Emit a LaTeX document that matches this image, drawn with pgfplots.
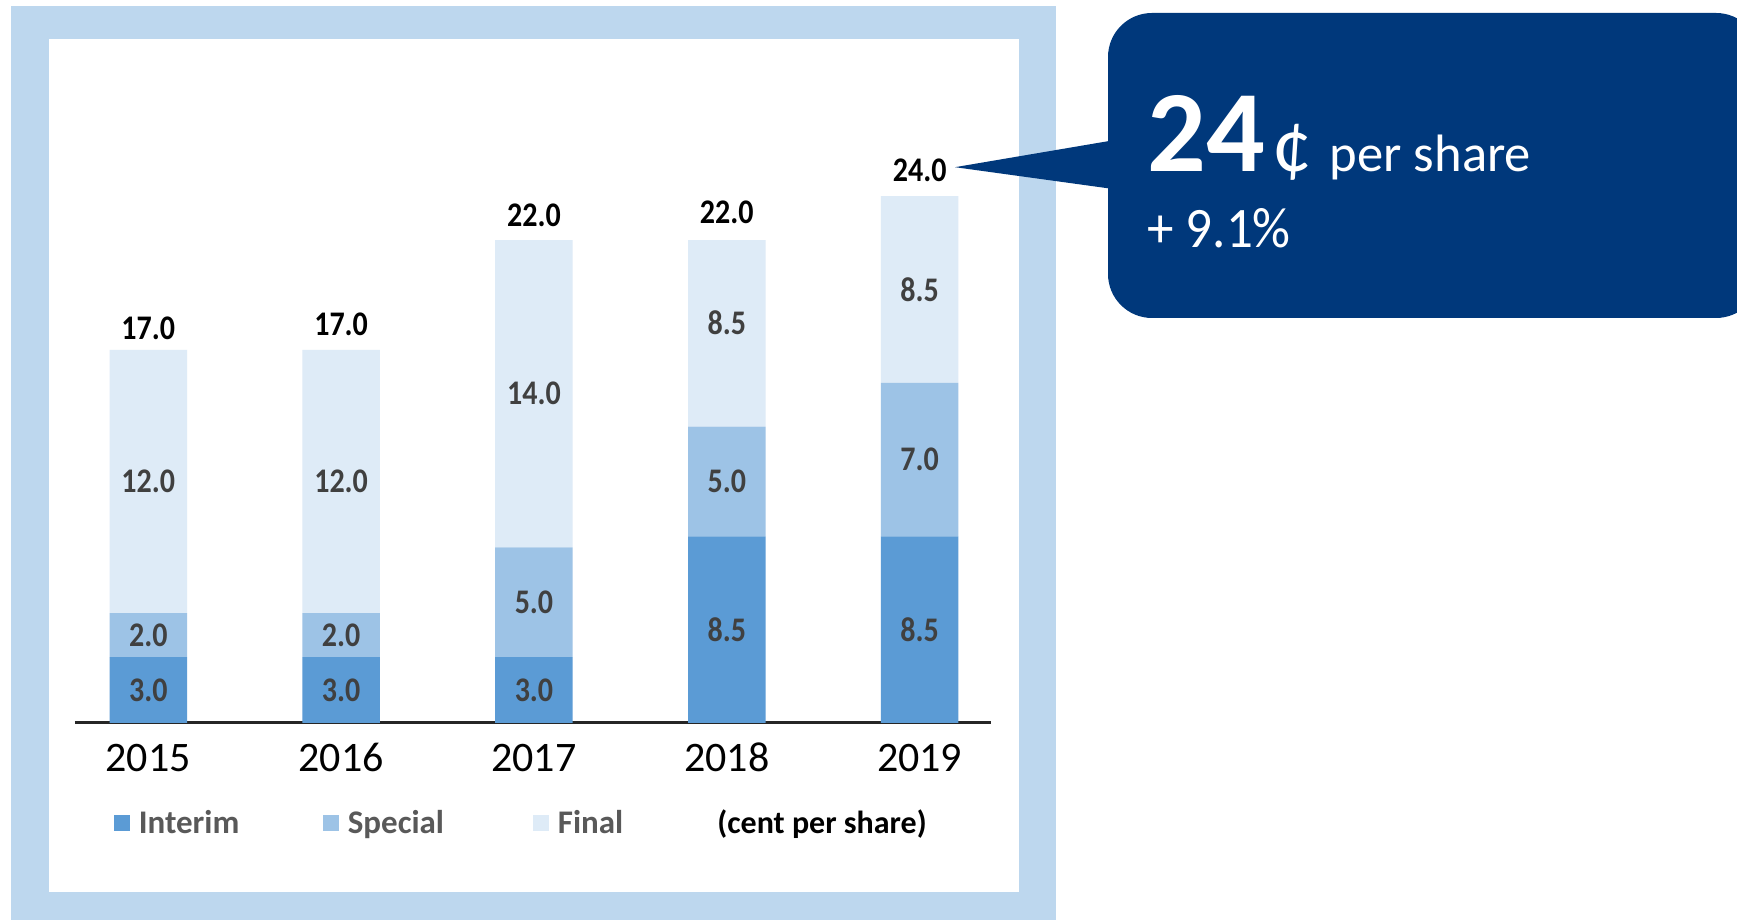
\documentclass[border=0pt]{standalone}
\usepackage{pgfplots}
\pgfplotsset{compat=1.18}
\usepackage{fontspec}
\setmainfont{Carlito}
\definecolor{interim}{HTML}{5B9BD5}
\definecolor{special}{HTML}{9DC3E6}
\definecolor{final}{HTML}{DEEBF7}
\definecolor{framecol}{HTML}{BDD7EE}
\definecolor{navy}{HTML}{00387B}
\definecolor{labgray}{HTML}{404040}
\definecolor{leggray}{HTML}{595959}
\definecolor{axisline}{HTML}{262626}
\pgfplotsset{mylegend/.style={legend image code/.code={\fill[##1] (0pt,-4pt) rectangle (8pt,4pt);}}}
\begin{document}
\begin{tikzpicture}
\useasboundingbox (0,0) rectangle (868.5pt,460pt);
\fill[framecol] (5.5pt,0pt) rectangle (528pt,457pt);
\fill[white] (24.5pt,14pt) rectangle (509.5pt,440.5pt);
\fill[navy, rounded corners=22pt] (554pt,301pt) rectangle (880pt,453.5pt);
\fill[navy] (477.5pt,376.4pt) -- (562pt,390.75pt) -- (562pt,364.75pt) -- cycle;
\node[anchor=base west, inner sep=0pt, text=white, font=\fontsize{58}{60}\selectfont\bfseries] at (573.5pt,374pt) {24};
\node[anchor=base west, inner sep=0pt, text=white, font=\fontsize{40}{44}\selectfont] at (636pt,374pt) {¢};
\node[anchor=base west, inner sep=0pt, text=white, font=\fontsize{26.3}{30}\selectfont] at (664.7pt,374pt) {per share};
\node[anchor=base west, inner sep=0pt, text=white, yscale=1.08, font=\fontsize{26.5}{30}\selectfont] at (573.5pt,336pt) {+ 9.1\%};

\begin{axis}[
  at={(37.5pt,98.5pt)}, anchor=south west,
  scale only axis, width=458pt, height=285.35pt,
  xmin=-0.38, xmax=4.37, ymin=0, ymax=26,
  ybar stacked, bar width=38.75pt,
  mylegend,
  axis x line*=bottom, axis y line=none, ytick=\empty,
  x axis line style={-, line width=1.5pt, color=axisline},
  xtick={0,1,2,3,4}, xticklabels={2015,2016,2017,2018,2019},
  major tick length=0pt, xtick style={draw=none},
  xticklabel style={anchor=base, yshift=-24.5pt, text=black, font=\fontsize{21}{24}\selectfont},
  legend columns=4,
  legend style={at={(axis cs:-0.178,-4.556)}, anchor=west, draw=none, fill=none,
    inner sep=0pt, text=leggray, font=\fontsize{16.5}{18}\selectfont\bfseries,
    nodes={inner sep=0pt},
    /tikz/every odd column/.append style={column sep=4.25pt}},
]
\addplot[fill=interim, draw=none, mylegend] coordinates {(0,3) (1,3) (2,3) (3,8.5) (4,8.5)};
\addlegendentry{\makebox[92.25pt][l]{Interim}}
\addplot[fill=special, draw=none, mylegend] coordinates {(0,2) (1,2) (2,5) (3,5) (4,7)};
\addlegendentry{\makebox[92.75pt][l]{Special}}
\addplot[fill=final, draw=none, mylegend] coordinates {(0,12) (1,12) (2,14) (3,8.5) (4,8.5)};
\addlegendentry{\makebox[75.5pt][l]{Final}}
\addlegendimage{empty legend}
\addlegendentry{\textcolor{black}{\fontsize{16}{18}\selectfont (cent per share)}}
\end{axis}

\begin{axis}[
  at={(37.5pt,98.5pt)}, anchor=south west,
  scale only axis, width=458pt, height=285.35pt,
  xmin=-0.38, xmax=4.37, ymin=0, ymax=26,
  hide axis, clip=false,
]
\addplot[only marks, mark=none, nodes near coords, point meta=explicit symbolic,
  every node near coord/.append style={anchor=center, text=labgray, yscale=1.15,
    font=\fontsize{15}{17}\selectfont\bfseries}]
  table[meta=lab] {
x y lab
0 1.5 3.0
1 1.5 3.0
2 1.5 3.0
3 4.25 8.5
4 4.25 8.5
0 4 2.0
1 4 2.0
2 5.5 5.0
3 11 5.0
4 12 7.0
0 11 12.0
1 11 12.0
2 15 14.0
3 18.25 8.5
4 19.75 8.5
};
\addplot[only marks, mark=none, nodes near coords, point meta=explicit symbolic,
  every node near coord/.append style={anchor=center, text=black, yscale=1.15,
    font=\fontsize{15}{17}\selectfont\bfseries}]
  table[meta=lab] {
x y lab
0 18.0 17.0
1 18.15 17.0
2 23.15 22.0
3 23.25 22.0
4 25.2 24.0
};
\end{axis}
\end{tikzpicture}
\end{document}
